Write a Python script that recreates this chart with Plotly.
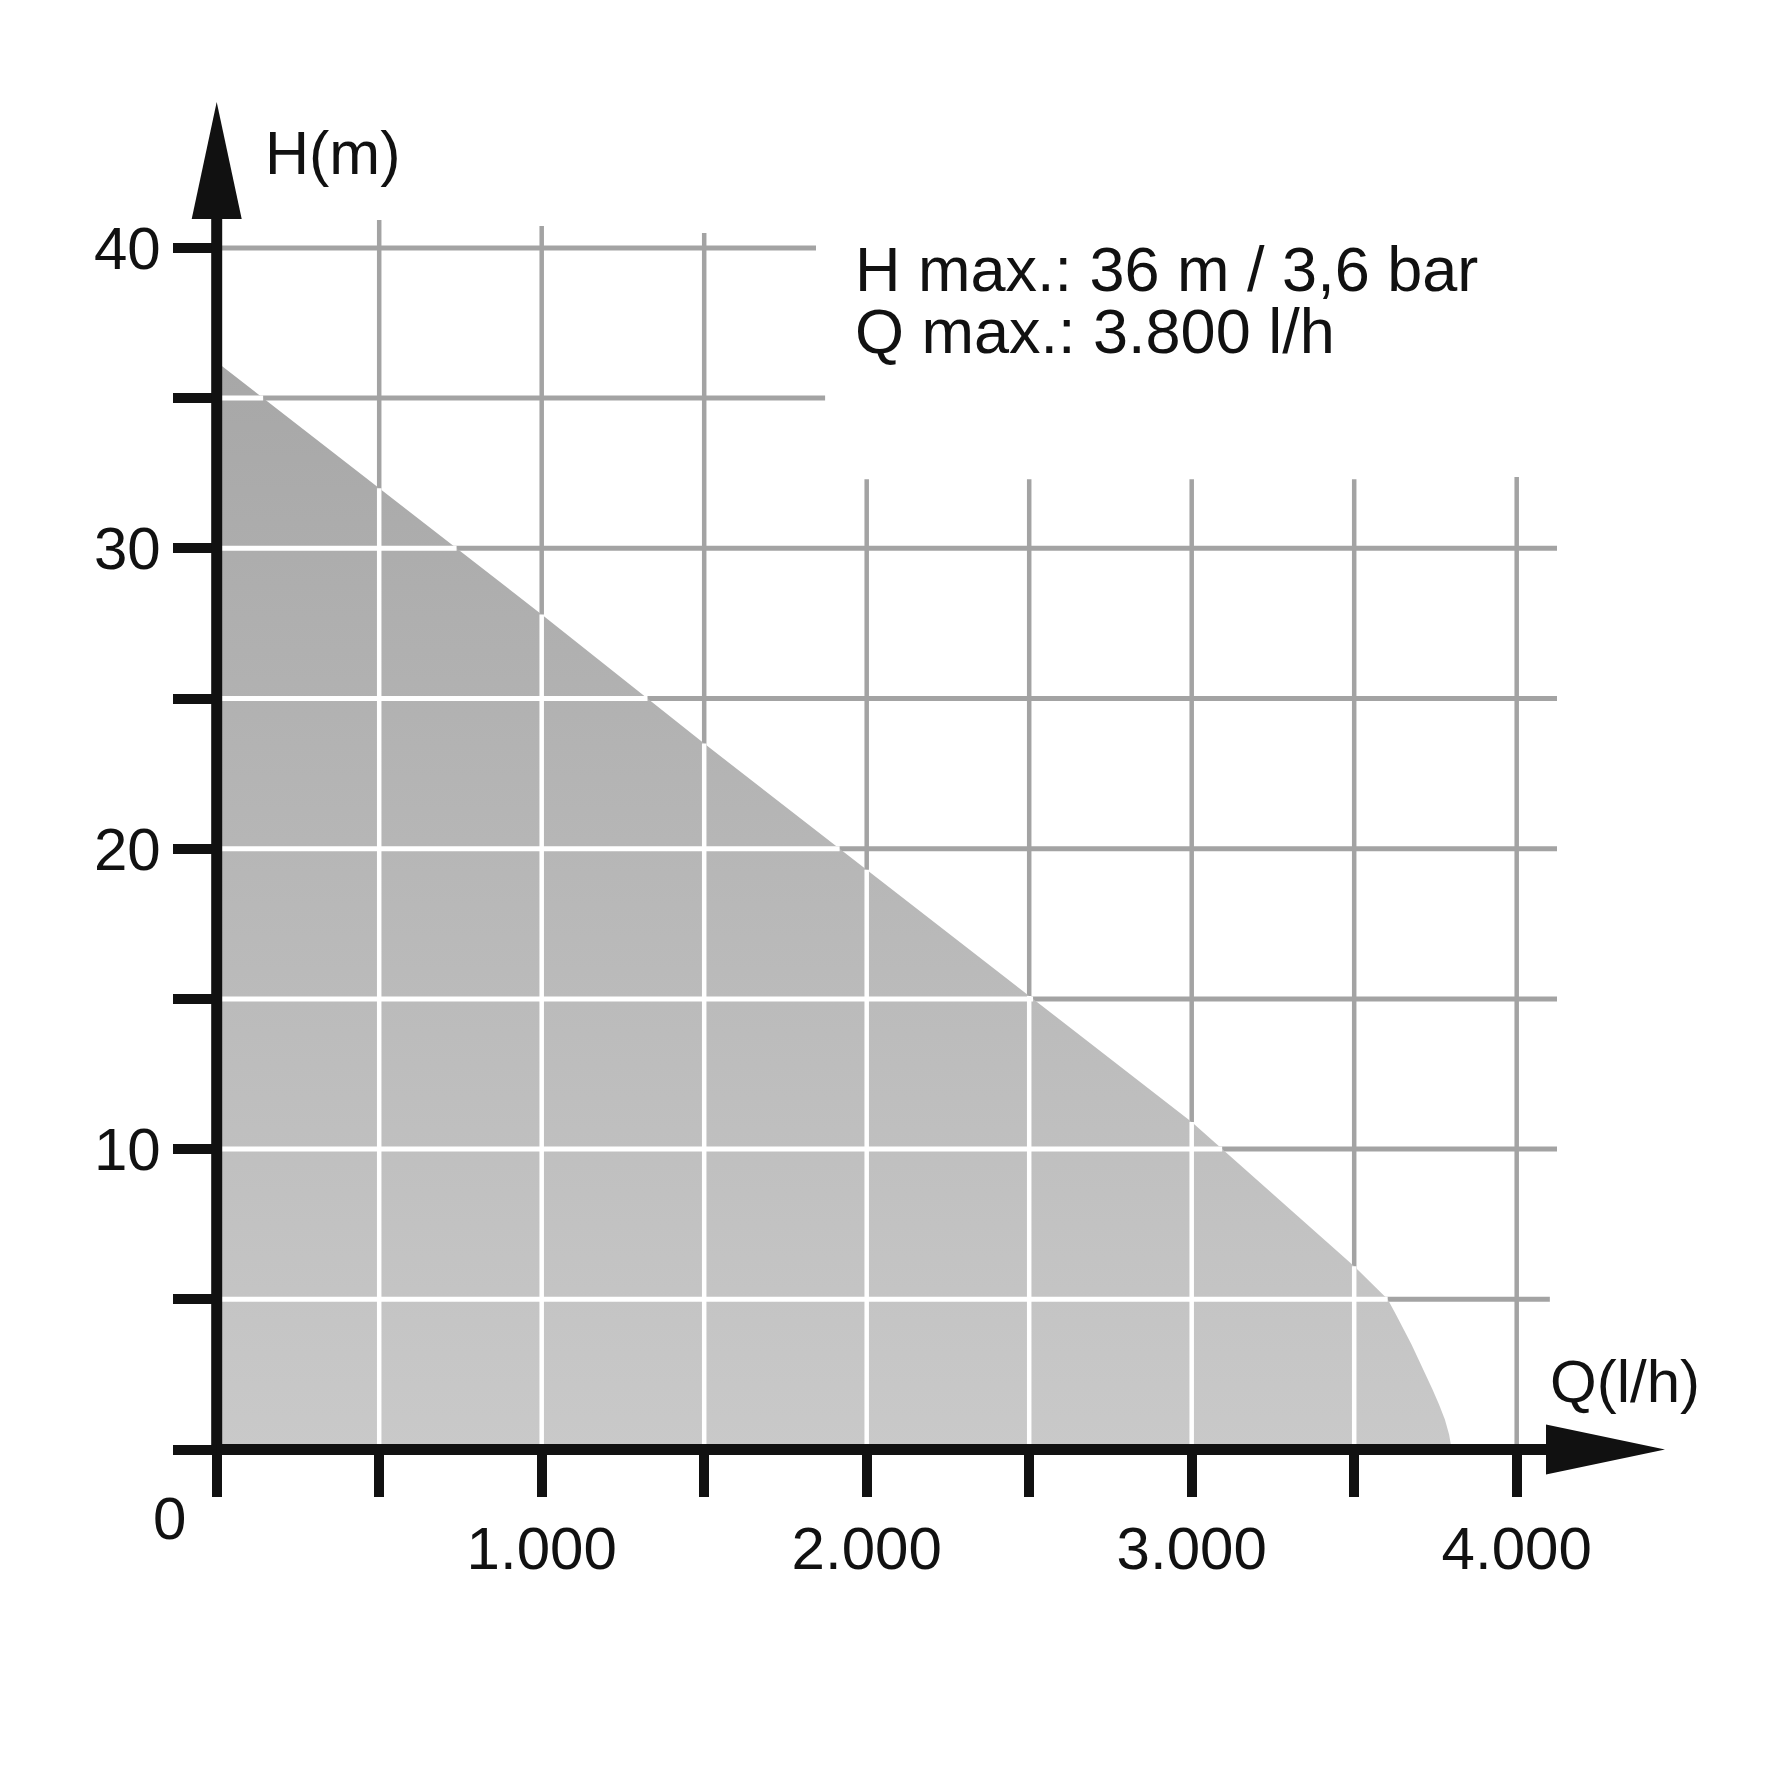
import numpy as np
import plotly.graph_objects as go

# ---------------- data ----------------
Q_LPH = [0, 500, 1000, 1500, 2000, 2500, 3000, 3500, 3603, 3628, 3653, 3676, 3698, 3720, 3741, 3761, 3779, 3792, 3800]
H_M = [36.2, 32.0, 27.8, 23.5, 19.3, 15.1, 10.9, 6.1, 5.0, 4.5, 4.0, 3.5, 3.0, 2.5, 2.0, 1.5, 1.0, 0.5, 0.0]

X_TICKS = [0, 500, 1000, 1500, 2000, 2500, 3000, 3500, 4000]
X_TICK_TEXT = ["", "", "1.000", "", "2.000", "", "3.000", "", "4.000"]
Y_TICKS = [0, 5, 10, 15, 20, 25, 30, 35, 40]
Y_TICK_TEXT = ["", "", "10", "", "20", "", "30", "", "40"]

# grid extents (data units)
V_GRID = [500, 1000, 1500, 2000, 2500, 3000, 3500, 4000]
V_GRID_TOP = [40.93, 40.73, 40.5, 32.3, 32.3, 32.3, 32.3, 32.37]
H_GRID = [5, 10, 15, 20, 25, 30, 35, 40]
H_GRID_END = [4102, 4124, 4124, 4124, 4124, 4124, 1872, 1844]

INFO_LINES = ["H max.: 36 m / 3,6 bar", "Q max.: 3.800 l/h"]

# --------------- geometry ---------------
W = H = 1772
X0PX, XPX_PER = 216.7, 0.325      # pixel of Q=0, px per l/h
Y0PX, YPX_PER = 1449.5, 30.04     # pixel of H=0, px per m
xr = [-X0PX / XPX_PER, (W - X0PX) / XPX_PER]
yr = [-(H - Y0PX) / YPX_PER, Y0PX / YPX_PER]

FONT = "Liberation Sans, Arial, Helvetica, sans-serif"
GRAY = "#a3a3a3"
BLACK = "#111111"

Qa = np.array(Q_LPH, dtype=float)
Ha = np.array(H_M, dtype=float)


def seg_trace(xs, ys, color, width):
    return go.Scatter(x=xs, y=ys, mode="lines", line=dict(color=color, width=width),
                      hoverinfo="skip", showlegend=False)


# gray grid (full extents)
vx, vy = [], []
for q, top in zip(V_GRID, V_GRID_TOP):
    vx += [q, q, None]
    vy += [0, top, None]
hx, hy = [], []
for h, end in zip(H_GRID, H_GRID_END):
    hx += [0, end, None]
    hy += [h, h, None]

# white grid parts inside the filled area
wvx, wvy = [], []
for q in V_GRID:
    if q < Qa.max():
        hq = float(np.interp(q, Qa, Ha))
        wvx += [q, q, None]
        wvy += [0, hq, None]
whx, why = [], []
for h in H_GRID:
    if h < Ha.max():
        qh = float(np.interp(h, Ha[::-1], Qa[::-1]))
        whx += [0, qh, None]
        why += [h, h, None]

fig = go.Figure()
fig.add_trace(seg_trace(vx, vy, GRAY, 4.5))
fig.add_trace(seg_trace(hx, hy, GRAY, 5))
fig.add_trace(go.Scatter(
    x=Q_LPH, y=H_M, mode="lines",
    line=dict(width=0, color="rgba(0,0,0,0)"),
    fill="tozeroy",
    fillgradient=dict(type="vertical", start=0, stop=max(H_M),
                      colorscale=[[0, "#c9c9c9"], [1, "#a7a7a7"]]),
    hoverinfo="skip", showlegend=False))
fig.add_trace(seg_trace(wvx, wvy, "white", 4.5))
fig.add_trace(seg_trace(whx, why, "white", 5))

# axis lines and arrows (data coordinates)
y_arrow_base = (Y0PX - 219) / YPX_PER
y_arrow_tip = (Y0PX - 102) / YPX_PER
x_arrow_base = (1546 - X0PX) / XPX_PER
x_arrow_tip = (1665 - X0PX) / XPX_PER
half_w_q = 25 / XPX_PER
half_w_h = 25 / YPX_PER

shapes = [
    dict(type="line", xref="x", yref="y", x0=0, x1=0, y0=0, y1=y_arrow_base + 0.1,
         line=dict(color=BLACK, width=11), layer="above"),
    dict(type="line", xref="x", yref="y", x0=0, x1=x_arrow_base + 5, y0=0, y1=0,
         line=dict(color=BLACK, width=11), layer="above"),
    dict(type="path", xref="x", yref="y", layer="above",
         path=f"M {-half_w_q},{y_arrow_base} L {half_w_q},{y_arrow_base} L 0,{y_arrow_tip} Z",
         fillcolor=BLACK, line=dict(width=0)),
    dict(type="path", xref="x", yref="y", layer="above",
         path=f"M {x_arrow_base},{-half_w_h} L {x_arrow_base},{half_w_h} L {x_arrow_tip},0 Z",
         fillcolor=BLACK, line=dict(width=0)),
]

annotations = [
    dict(text="H(m)", xref="paper", yref="paper", x=333 / W, y=1 - 153 / H,
         xanchor="center", yanchor="middle", showarrow=False,
         font=dict(family=FONT, size=61, color=BLACK)),
    dict(text="Q(l/h)", xref="paper", yref="paper", x=1625 / W, y=1 - 1381 / H,
         xanchor="center", yanchor="middle", showarrow=False,
         font=dict(family=FONT, size=60, color=BLACK)),
    dict(text="0", xref="paper", yref="paper", x=169 / W, y=1 - 1518 / H,
         xanchor="center", yanchor="middle", showarrow=False,
         font=dict(family=FONT, size=60, color=BLACK)),
    dict(text=INFO_LINES[0], xref="paper", yref="paper", x=853 / W, y=1 - 269 / H,
         xanchor="left", yanchor="middle", showarrow=False,
         font=dict(family=FONT, size=63, color=BLACK)),
    dict(text=INFO_LINES[1], xref="paper", yref="paper", x=853 / W, y=1 - 331 / H,
         xanchor="left", yanchor="middle", showarrow=False,
         font=dict(family=FONT, size=63, color=BLACK)),
]

fig.update_layout(
    width=W, height=H, margin=dict(l=0, r=0, t=0, b=0),
    paper_bgcolor="white", plot_bgcolor="white",
    showlegend=False, hovermode=False,
    shapes=shapes, annotations=annotations,
    xaxis=dict(range=xr, domain=[0, 1], anchor="free", position=1 - Y0PX / H,
               showgrid=False, zeroline=False, showline=False,
               ticks="outside", ticklen=46, tickwidth=10, tickcolor=BLACK,
               tickvals=X_TICKS, ticktext=X_TICK_TEXT,
               tickfont=dict(family=FONT, size=60, color=BLACK)),
    yaxis=dict(range=yr, domain=[0, 1], anchor="free", position=X0PX / W,
               showgrid=False, zeroline=False, showline=False,
               ticks="outside", ticklen=44, tickwidth=10, tickcolor=BLACK,
               tickvals=Y_TICKS, ticktext=Y_TICK_TEXT,
               tickfont=dict(family=FONT, size=60, color=BLACK)),
)

fig.write_html("out.html")
